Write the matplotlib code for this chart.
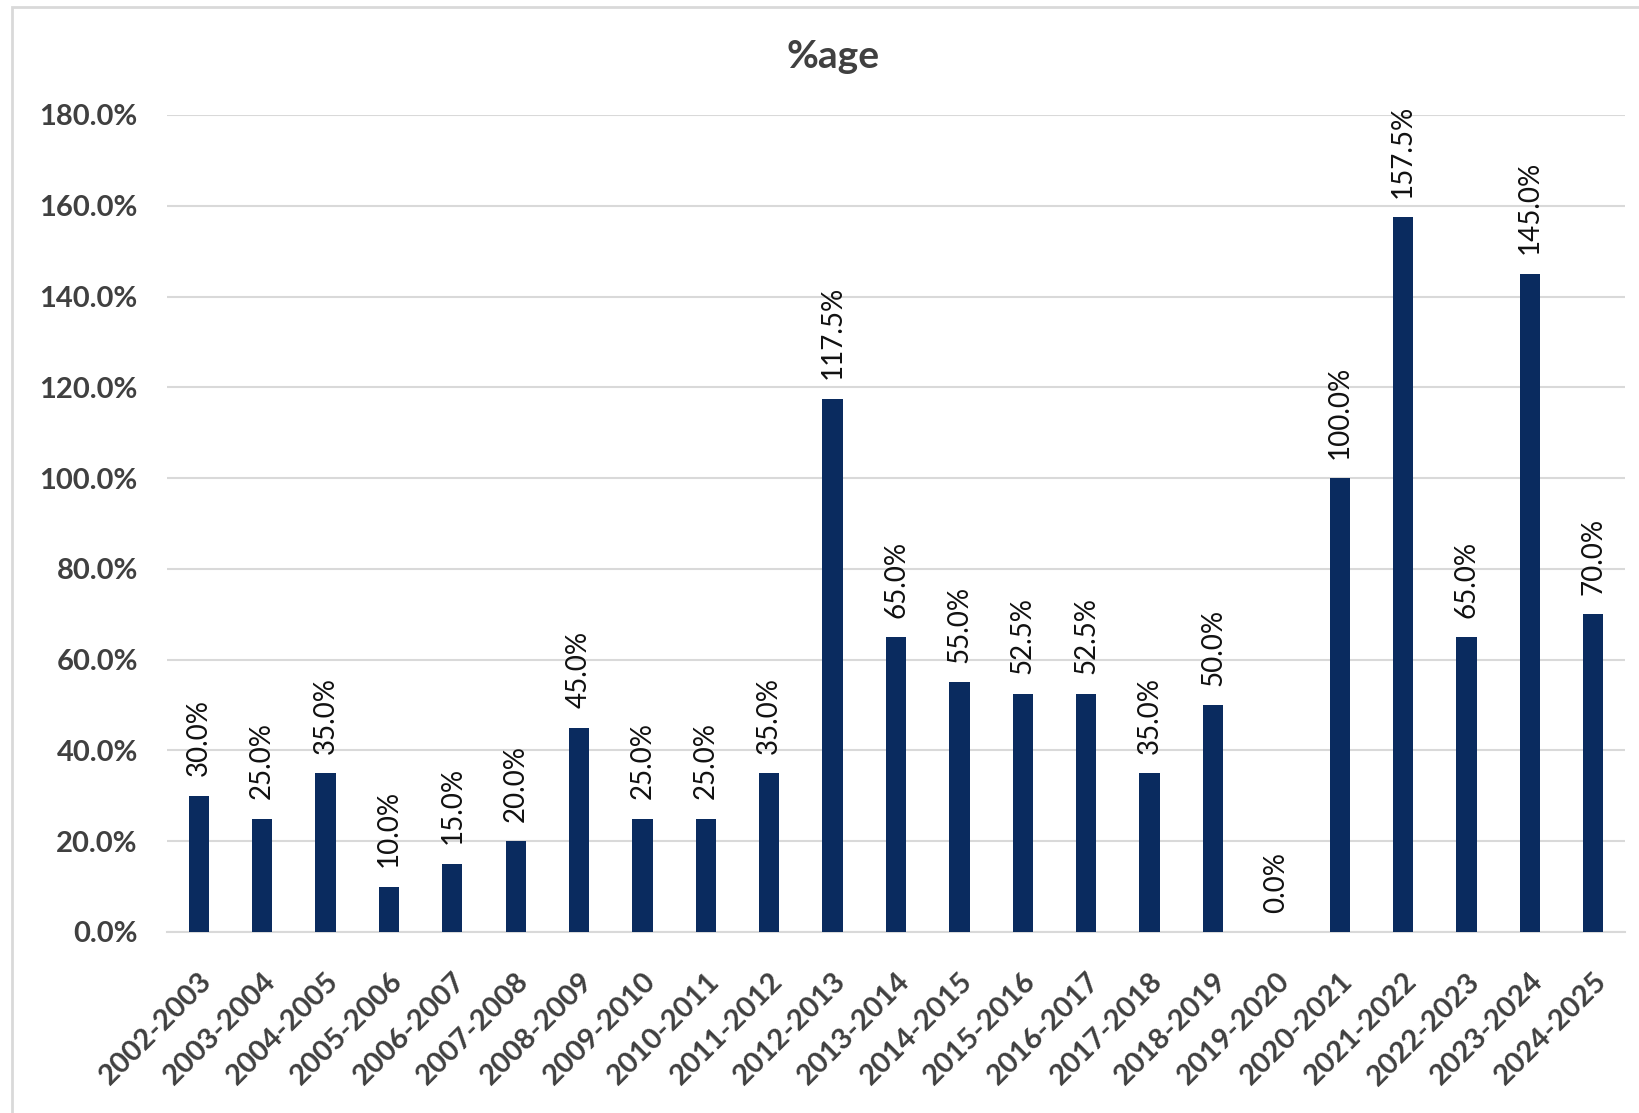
import matplotlib.pyplot as plt
from matplotlib.patches import Rectangle

plt.rcParams['font.family'] = ['Lato', 'DejaVu Sans']

years = ['2002-2003', '2003-2004', '2004-2005', '2005-2006', '2006-2007', '2007-2008',
         '2008-2009', '2009-2010', '2010-2011', '2011-2012', '2012-2013', '2013-2014',
         '2014-2015', '2015-2016', '2016-2017', '2017-2018', '2018-2019', '2019-2020',
         '2020-2021', '2021-2022', '2022-2023', '2023-2024', '2024-2025']
pct = [30.0, 25.0, 35.0, 10.0, 15.0, 20.0, 45.0, 25.0, 25.0, 35.0, 117.5, 65.0,
       55.0, 52.5, 52.5, 35.0, 50.0, 0.0, 100.0, 157.5, 65.0, 145.0, 70.0]
yticks = [0, 20, 40, 60, 80, 100, 120, 140, 160, 180]

W, H = 1639, 1113
fig = plt.figure(figsize=(W / 100, H / 100), dpi=100)

# chart frame (cut off at right and bottom like the screenshot)
fig.patches.append(Rectangle((12 / W, -0.05), 1.2, (H - 7) / H + 0.05,
                             transform=fig.transFigure, fill=False,
                             edgecolor='#d9d9d9', linewidth=2))

ax = fig.add_axes([167 / W, 181 / H, (1625 - 167) / W, (932 - 115) / H])

x = range(len(years))
ax.bar(x, pct, width=0.32, color='#0a2b5f', zorder=3)

for xi, v in zip(x, pct):
    ax.annotate(f'{v:.1f}%', (xi, v), xytext=(0, 14), textcoords='offset points',
                rotation=90, ha='center', va='bottom', fontsize=20, color='#111111')

ax.set_ylim(0, 180)
ax.set_xlim(-0.5, len(years) - 0.5)
ax.set_yticks(yticks)
ax.set_yticklabels([f'{t:.1f}%' for t in yticks], fontsize=21, fontweight='bold',
                   color='#404040')
ax.set_xticks(list(x))
ax.set_xticklabels(years, rotation=45, ha='right', rotation_mode='anchor',
                   fontsize=21, fontweight='bold', color='#404040')
ax.tick_params(axis='both', length=0)
ax.tick_params(axis='y', pad=21)
ax.tick_params(axis='x', pad=26)

ax.grid(axis='y', color='#d9d9d9', linewidth=1.5, zorder=0)
for s in ['top', 'right', 'left']:
    ax.spines[s].set_visible(False)
ax.spines['bottom'].set_color('#d9d9d9')
ax.spines['bottom'].set_linewidth(1.5)

fig.text(833 / W, 1 - 57 / H, '%age', ha='center', va='center', fontsize=28,
         fontweight='bold', color='#404040')

fig.savefig('out.png', dpi=100)
